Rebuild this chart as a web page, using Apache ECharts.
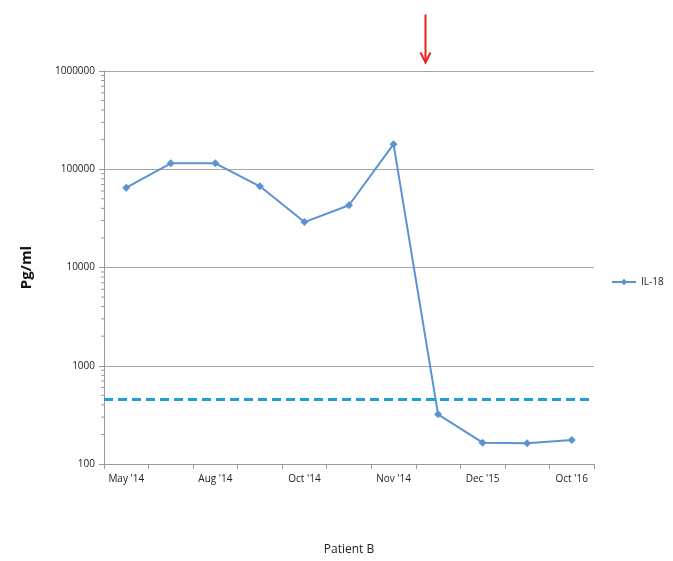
<!DOCTYPE html>
<html><head><meta charset="utf-8">
<script src="https://cdn.jsdelivr.net/npm/echarts@6/dist/echarts.min.js"></script>
<style>html,body{margin:0;padding:0;background:#fff}#c{width:673px;height:561px}</style>
</head><body><div id="c"></div>
<script>
var categories = ["May '14","Jun '14","Aug '14","Sep '14","Oct '14","Oct '14 b","Nov '14","Nov '14 b","Dec '15","Mar '16","Oct '16"];
var tickLabels = ["May '14","","Aug '14","","Oct '14","","Nov '14","","Dec '15","","Oct '16"];
var il18 = [65000, 115000, 115000, 67000, 29000, 43000, 180000, 320, 165, 163, 175];
var referenceLevel = 460;

var minorVals = [];
for (var d = 100; d < 1000000; d *= 10) for (var k = 2; k <= 9; k++) minorVals.push(d * k);

var chart = echarts.init(document.getElementById('c'), null, {renderer: 'canvas'});
var blue = '#5B93D2';
chart.setOption({
  animation: false,
  backgroundColor: '#fff',
  textStyle: {fontFamily: '"Open Sans", "Liberation Sans", sans-serif'},
  grid: {left: 104, right: 79, top: 71, bottom: 95},
  legend: {
    show: true, left: 606, top: 272, orient: 'vertical',
    itemWidth: 24, itemHeight: 8, itemGap: 4,
    textStyle: {fontSize: 10, color: '#222'},
    data: ['IL-18']
  },
  xAxis: {
    type: 'category', data: categories, boundaryGap: true,
    name: 'Patient B', nameLocation: 'middle', nameGap: 80,
    nameTextStyle: {fontSize: 12, color: '#222'},
    axisLine: {lineStyle: {color: '#999', width: 1}},
    axisTick: {show: true, interval: 0, length: 5, lineStyle: {color: '#999'}},
    axisLabel: {interval: 0, fontSize: 10, color: '#222', margin: 10,
      formatter: function (v, i) { return tickLabels[i]; }},
    splitLine: {show: false}
  },
  yAxis: {
    type: 'log', logBase: 10, min: 100, max: 1000000,
    name: 'Pg/ml', nameLocation: 'middle', nameGap: 70, nameRotate: 90,
    nameTextStyle: {fontSize: 15, fontWeight: 'bold', color: '#111'},
    axisLine: {show: true, lineStyle: {color: '#999'}},
    axisTick: {show: true, length: 5, inside: false, lineStyle: {color: '#999'}},
    axisLabel: {fontSize: 10, color: '#222', margin: 9,
      formatter: function (v) { return String(Math.round(v)); }},
    splitLine: {show: true, lineStyle: {color: '#a6a6a6', width: 1}}
  },
  series: [
    {
      name: 'IL-18', type: 'line', data: il18,
      symbol: 'diamond', symbolSize: 8,
      lineStyle: {color: blue, width: 2},
      itemStyle: {color: blue},
      markLine: {
        silent: true, symbol: ['none', 'none'], label: {show: false},
        lineStyle: {color: '#1EA0D6', type: [9, 5], width: 3},
        data: [{yAxis: referenceLevel}]
      }
    },
    {
      name: 'minor', type: 'custom', silent: true,
      data: minorVals,
      renderItem: function (params, api) {
        var p = api.coord([0, api.value(0)]);
        var x0 = params.coordSys.x;
        return {type: 'line', shape: {x1: x0 - 3, y1: p[1], x2: x0, y2: p[1]},
          style: {stroke: '#999', lineWidth: 1}};
      },
      encode: {y: 0}
    }
  ],
  graphic: [{
    type: 'group', left: 418, top: 12,
    children: [
      {type: 'line', shape: {x1: 6, y1: 0, x2: 6, y2: 46}, style: {stroke: '#E8231F', lineWidth: 2}},
      {type: 'polyline', shape: {points: [[1, 38], [6, 48], [11, 38]]}, style: {stroke: '#E8231F', lineWidth: 2, fill: null}}
    ]
  }]
});
</script></body></html>
